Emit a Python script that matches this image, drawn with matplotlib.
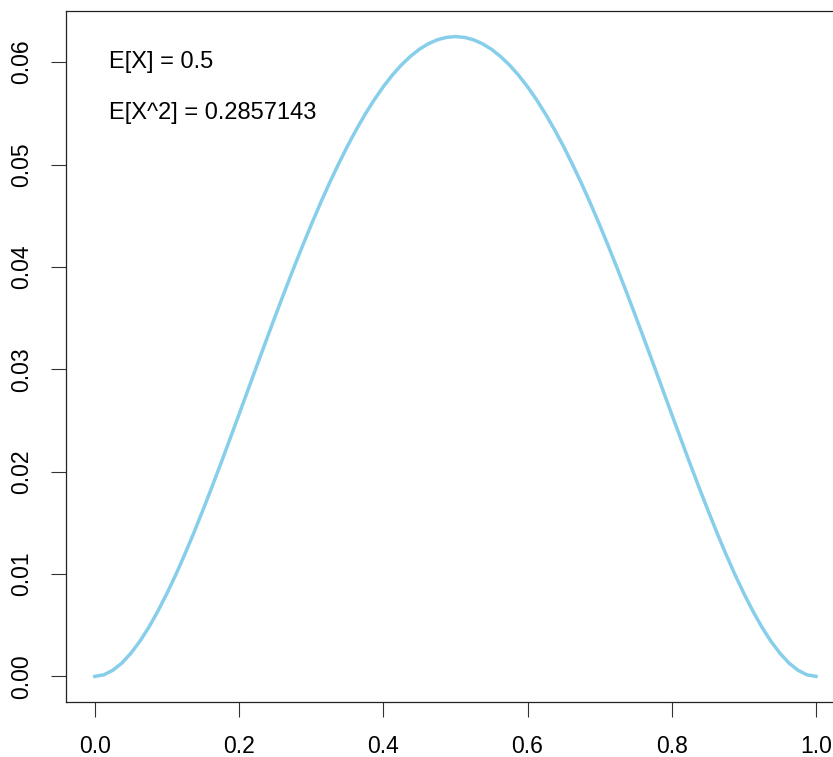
import matplotlib.pyplot as plt
import numpy as np

plt.rcParams['font.family'] = ['Liberation Sans', 'DejaVu Sans']

# curve values (left half, the curve is symmetric about 0.5)
x_half = [0.0, 0.0125, 0.025, 0.0375, 0.05, 0.0625, 0.075, 0.0875, 0.1,
          0.1125, 0.125, 0.1375, 0.15, 0.1625, 0.175, 0.1875, 0.2, 0.2125,
          0.225, 0.2375, 0.25, 0.2625, 0.275, 0.2875, 0.3, 0.3125, 0.325,
          0.3375, 0.35, 0.3625, 0.375, 0.3875, 0.4, 0.4125, 0.425, 0.4375,
          0.45, 0.4625, 0.475, 0.4875, 0.5]
y_half = [0.0, 0.00015, 0.0006, 0.0013, 0.00226, 0.00343, 0.00481, 0.00638,
          0.0081, 0.00997, 0.01196, 0.01406, 0.01626, 0.01852, 0.02084,
          0.02321, 0.0256, 0.028, 0.03041, 0.03279, 0.03516, 0.03748,
          0.03975, 0.04196, 0.0441, 0.04616, 0.04813, 0.04999, 0.05176,
          0.0534, 0.05493, 0.05633, 0.0576, 0.05873, 0.05972, 0.06056,
          0.06126, 0.0618, 0.06219, 0.06242, 0.0625]

x_ticks = [0.0, 0.2, 0.4, 0.6, 0.8, 1.0]
y_ticks = [0.00, 0.01, 0.02, 0.03, 0.04, 0.05, 0.06]
notes = ['E[X] = 0.5', 'E[X^2] = 0.2857143']
note_y = [0.06, 0.055]


def main():
    # mirror the left half to get the whole curve
    xs = np.concatenate([x_half, 1.0 - np.array(x_half[-2::-1])])
    ys = np.concatenate([y_half, y_half[-2::-1]])

    fig = plt.figure(figsize=(8.33, 7.57), dpi=100)
    ax = fig.add_axes([0.0792, 0.0727, 0.935, 0.9128])

    ax.plot(xs, ys, color='#87CEEB', linewidth=2.5, solid_joinstyle='round')

    ax.set_xlim(-0.04, 1.04)
    ax.set_ylim(-0.0025, 0.065)
    ax.set_xticks(x_ticks)
    ax.set_xticklabels(['%.1f' % t for t in x_ticks])
    ax.set_yticks(y_ticks)
    ax.set_yticklabels(['%.2f' % t for t in y_ticks], rotation=90, va='center')
    ax.tick_params(length=10.5, width=0.8, pad=13, labelsize=16.5, color='#333333')

    for sp in ax.spines.values():
        sp.set_linewidth(0.9)
        sp.set_color('#222222')

    for txt, yy in zip(notes, note_y):
        ax.text(0.02, yy, txt, ha='left', va='center', fontsize=17)

    fig.savefig('out.png', dpi=100)


main()
